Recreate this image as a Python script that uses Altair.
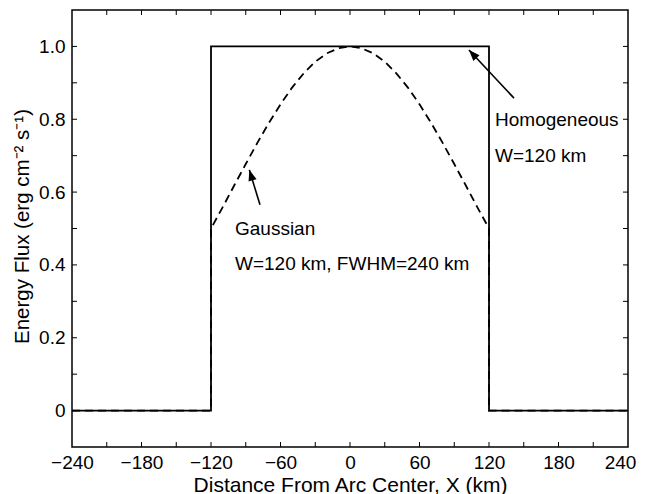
import altair as alt
import pandas as pd

# ---- data ----
# Homogeneous (box) profile
homo_x = [-240, -120, -120, 120, 120, 240]
homo_y = [0.0, 0.0, 1.0, 1.0, 0.0, 0.0]

# Gaussian profile (FWHM = 240 km)
gauss_x = [-240, -120, -120, -110, -100, -90, -80, -70, -60, -50, -40, -30, -20, -10, 0,
           10, 20, 30, 40, 50, 60, 70, 80, 90, 100, 110, 120, 120, 240]
gauss_y = [0.0, 0.0, 0.5, 0.558, 0.618, 0.677, 0.735, 0.790, 0.841, 0.887, 0.926, 0.958, 0.981, 0.995, 1.0,
           0.995, 0.981, 0.958, 0.926, 0.887, 0.841, 0.790, 0.735, 0.677, 0.618, 0.558, 0.5, 0.0, 0.0]

x_label_values = [-240, -180, -120, -60, 0, 60, 120, 180, 240]
y_label_values = [0, 0.2, 0.4, 0.6, 0.8, 1.0]
x_tick_values = [-210, -180, -150, -120, -90, -60, -30, 0, 30, 60, 90, 120, 150, 180, 210]
y_tick_values = [0, 0.1, 0.2, 0.3, 0.4, 0.5, 0.6, 0.7, 0.8, 0.9, 1.0]

# annotations (data coordinates)
ann_text = ["Homogeneous", "W=120 km", "Gaussian", "W=120 km, FWHM=240 km"]
ann_x = [125.2, 125.2, -99.3, -99.3]
ann_y = [0.781, 0.682, 0.482, 0.386]

arrow_tail_x = [141.6, -77.7]
arrow_tail_y = [0.858, 0.565]
arrow_tip_x = [102.7, -86.9]
arrow_tip_y = [0.990, 0.661]
arrow_angle = [317, 343]

W, H = 556, 437
FONT = "Liberation Sans"

xscale = alt.Scale(domain=[-240, 240], nice=False, zero=False)
yscale = alt.Scale(domain=[-0.1, 1.1], nice=False, zero=False)

homo = pd.DataFrame({"x": homo_x, "y": homo_y, "o": list(range(len(homo_x)))})
gauss = pd.DataFrame({"x": gauss_x, "y": gauss_y, "o": list(range(len(gauss_x)))})

x_axis = alt.Axis(values=x_label_values, format="d", ticks=False, tickSize=0, grid=False,
                  domain=False, labelFontSize=19, labelFont=FONT, labelColor="black",
                  labelPadding=6, title="Distance From Arc Center, X (km)",
                  labelOffset={"condition": {"test": "datum.value == 240", "value": -8}, "value": 0},
                  titleFontSize=21, titleFont=FONT, titleFontWeight="normal",
                  titleColor="black", titlePadding=2, labelFlush=False)
y_axis = alt.Axis(values=y_label_values, ticks=False, tickSize=0, grid=False, domain=False,
                  labelExpr="datum.value == 0 ? '0' : format(datum.value, '.1f')",
                  labelFontSize=19, labelFont=FONT, labelColor="black", labelPadding=7,
                  title="Energy Flux (erg cm⁻² s⁻¹)", titleFontSize=20.5, titleFont=FONT,
                  titleFontWeight="normal", titleColor="black",
                  titleX=-44, titleY=216, titleBaseline="alphabetic", labelFlush=False)


def X(field):
    return alt.X(field, scale=xscale, axis=x_axis)


def Y(field):
    return alt.Y(field, scale=yscale, axis=y_axis)


gauss_line = alt.Chart(gauss).mark_line(color="black", strokeWidth=1.8, strokeDash=[8, 5]).encode(
    x=X("x:Q"), y=Y("y:Q"), order="o:Q")
homo_line = alt.Chart(homo).mark_line(color="black", strokeWidth=1.8).encode(
    x=X("x:Q"), y=Y("y:Q"), order="o:Q")

xt = pd.DataFrame({"t": x_tick_values})
yt = pd.DataFrame({"t": y_tick_values})
tick_len = 5
bottom_ticks = alt.Chart(xt).mark_rule(color="black", strokeWidth=1).encode(
    x=X("t:Q"), y=alt.value(H), y2=alt.value(H - tick_len))
top_ticks = alt.Chart(xt).mark_rule(color="black", strokeWidth=1).encode(
    x=X("t:Q"), y=alt.value(0), y2=alt.value(tick_len))
left_ticks = alt.Chart(yt).mark_rule(color="black", strokeWidth=1).encode(
    y=Y("t:Q"), x=alt.value(0), x2=alt.value(tick_len))
right_ticks = alt.Chart(yt).mark_rule(color="black", strokeWidth=1).encode(
    y=Y("t:Q"), x=alt.value(W), x2=alt.value(W - tick_len))

arrows = pd.DataFrame({"x": arrow_tail_x, "y": arrow_tail_y, "x2": arrow_tip_x,
                       "y2": arrow_tip_y, "a": arrow_angle})
arrow_lines = alt.Chart(arrows).mark_rule(color="black", strokeWidth=1.6).encode(
    x=X("x:Q"), y=Y("y:Q"), x2="x2:Q", y2="y2:Q")
arrow_heads = alt.Chart(arrows).mark_point(
    shape="M0,0L-0.38,1L0.38,1Z", filled=True, color="black", opacity=1, size=484
).encode(
    x=X("x2:Q"), y=Y("y2:Q"), angle=alt.Angle("a:Q", scale=None))

ann = pd.DataFrame({"t": ann_text, "x": ann_x, "y": ann_y})
texts = alt.Chart(ann).mark_text(align="left", baseline="alphabetic", fontSize=19,
                                 font=FONT, color="black").encode(
    x=X("x:Q"), y=Y("y:Q"), text="t:N")

chart = alt.layer(
    gauss_line, homo_line, bottom_ticks, top_ticks, left_ticks, right_ticks,
    arrow_lines, arrow_heads, texts
).properties(
    width=W, height=H,
    autosize=alt.AutoSizeParams(type="none"),
    padding={"left": 64, "top": 2, "right": 9, "bottom": 47},
    background="white",
).configure_view(stroke="black", strokeWidth=1.5)

chart.save("out.html", embed_options={"renderer": "svg", "actions": False})
